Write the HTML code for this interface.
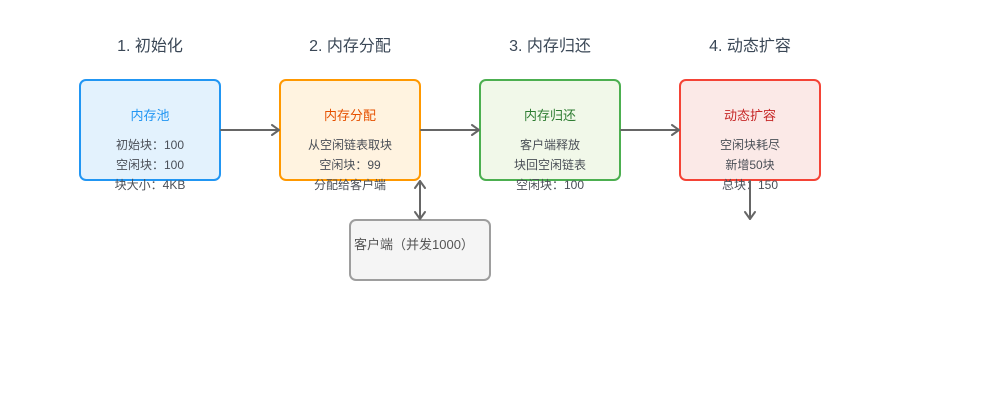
<!DOCTYPE html>
<html>
<head>
<meta charset="utf-8">
<style>
html,body{margin:0;padding:0;background:#fff;}
svg{display:block;}
text{font-family:"Liberation Sans","Noto Sans CJK SC",sans-serif;}
</style>
</head>
<body>
<svg width="1000" height="400" viewBox="0 0 1000 400" xmlns="http://www.w3.org/2000/svg">
<rect width="1000" height="400" fill="#fff"/>
<!-- stage titles -->
<g font-size="16" fill="#3a4756" text-anchor="middle">
<text x="150" y="51">1. 初始化</text>
<text x="350" y="51">2. 内存分配</text>
<text x="550" y="51">3. 内存归还</text>
<text x="750" y="51">4. 动态扩容</text>
</g>
<!-- boxes -->
<rect x="80" y="80" width="140" height="100" rx="6" fill="#e3f2fd" stroke="#2196f3" stroke-width="2"/>
<rect x="280" y="80" width="140" height="100" rx="6" fill="#fff3e0" stroke="#ff9800" stroke-width="2"/>
<rect x="480" y="80" width="140" height="100" rx="6" fill="#f1f8e9" stroke="#4caf50" stroke-width="2"/>
<rect x="680" y="80" width="140" height="100" rx="6" fill="#fbe9e7" stroke="#f44336" stroke-width="2"/>
<rect x="350" y="220" width="140" height="60" rx="6" fill="#f5f5f5" stroke="#9e9e9e" stroke-width="2"/>
<!-- box titles -->
<g font-size="13" text-anchor="middle">
<text x="150" y="120" fill="#2196f3">内存池</text>
<text x="350" y="120" fill="#e65100">内存分配</text>
<text x="550" y="120" fill="#2e7d32">内存归还</text>
<text x="750" y="120" fill="#c62828">动态扩容</text>
</g>
<!-- body lines -->
<g font-size="12" fill="#4a4f57" text-anchor="middle">
<text x="150" y="149">初始块：100</text>
<text x="150" y="169">空闲块：100</text>
<text x="150" y="189">块大小：4KB</text>
<text x="350" y="149">从空闲链表取块</text>
<text x="350" y="169">空闲块：99</text>
<text x="350" y="189">分配给客户端</text>
<text x="550" y="149">客户端释放</text>
<text x="550" y="169">块回空闲链表</text>
<text x="550" y="189">空闲块：100</text>
<text x="750" y="149">空闲块耗尽</text>
<text x="750" y="169">新增50块</text>
<text x="750" y="189">总块：150</text>
</g>
<text x="354" y="249" font-size="13" fill="#555">客户端（并发1000）</text>
<!-- connectors -->
<g stroke="#666" stroke-width="2" fill="none" stroke-linecap="round" stroke-linejoin="round">
<line x1="221" y1="130" x2="279" y2="130"/>
<polyline points="272,125 279,130 272,135"/>
<line x1="421" y1="130" x2="479" y2="130"/>
<polyline points="472,125 479,130 472,135"/>
<line x1="621" y1="130" x2="679" y2="130"/>
<polyline points="672,125 679,130 672,135"/>
<line x1="420" y1="181" x2="420" y2="219"/>
<polyline points="415,188 420,181 425,188"/>
<polyline points="415,212 420,219 425,212"/>
<line x1="750" y1="181" x2="750" y2="219"/>
<polyline points="745,212 750,219 755,212"/>
</g>
</svg>
</body>
</html>
